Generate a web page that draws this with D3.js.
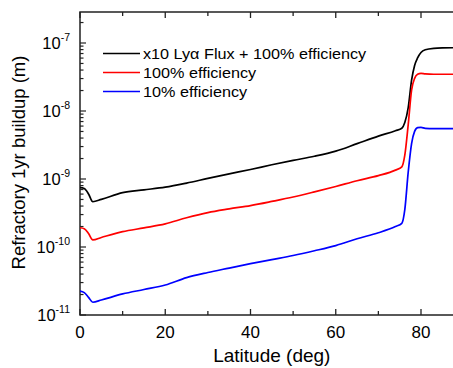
<!DOCTYPE html>
<html>
<head>
<meta charset="utf-8">
<script src="https://cdn.jsdelivr.net/npm/d3@7"></script>
<style>
    body { margin: 0; background: #fff; }
    text { font-family: "Liberation Sans", Arial, sans-serif; fill: #000; }
</style>
</head>
<body>
<script>
// latitude grid (deg) shared by all three series
const latitude = [0, 1, 2, 3, 5, 10, 15, 20, 25, 30, 35, 40, 45, 50, 55, 60, 65, 70,
    74, 75.5, 76.2, 77, 77.8, 78.5, 79.2, 80, 81, 83, 85, 88, 90];

// refractory 1yr buildup (m)
const lyaFlux100 = [7.45e-10, 7.24e-10, 6.03e-10, 4.63e-10, 5.01e-10, 6.31e-10, 6.92e-10, 7.59e-10,
    8.71e-10, 1.02e-9, 1.19e-9, 1.38e-9, 1.62e-9, 1.88e-9, 2.16e-9, 2.57e-9, 3.31e-9, 4.27e-9,
    5.13e-9, 5.57e-9, 6.76e-9, 1.12e-8, 2.86e-8, 4.68e-8, 6.03e-8, 7.24e-8, 7.94e-8,
    8.36e-8, 8.47e-8, 8.51e-8, 8.51e-8];
const eff100 = [1.92e-10, 1.86e-10, 1.58e-10, 1.27e-10, 1.38e-10, 1.68e-10, 1.91e-10, 2.19e-10,
    2.69e-10, 3.20e-10, 3.63e-10, 4.07e-10, 4.68e-10, 5.43e-10, 6.46e-10, 7.76e-10, 9.44e-10, 1.12e-9,
    1.35e-9, 1.51e-9, 2.24e-9, 6.31e-9, 2.04e-8, 3.02e-8, 3.47e-8, 3.58e-8, 3.51e-8,
    3.47e-8, 3.47e-8, 3.47e-8, 3.47e-8];
const eff10 = [2.25e-11, 2.13e-11, 1.82e-11, 1.54e-11, 1.66e-11, 2.04e-11, 2.37e-11, 2.76e-11,
    3.55e-11, 4.22e-11, 4.90e-11, 5.69e-11, 6.53e-11, 7.50e-11, 8.81e-11, 1.05e-10, 1.32e-10, 1.62e-10,
    2.00e-10, 2.23e-10, 3.55e-10, 1.26e-9, 3.35e-9, 5.01e-9, 5.69e-9, 5.75e-9, 5.56e-9,
    5.50e-9, 5.50e-9, 5.50e-9, 5.50e-9];

const seriesNames = ["x10 Ly\u03b1 Flux + 100% efficiency", "100% efficiency", "10% efficiency"];
const seriesColors = ["#000000", "#ff0000", "#0000ff"];
const seriesValues = [lyaFlux100, eff100, eff10];

const xTicks = [0, 20, 40, 60, 80];
const xMinorTicks = [10, 30, 50, 70, 90];
const yDecades = [-11, -10, -9, -8, -7];

const width = 453, height = 368;
const plotLeft = 80, plotTop = 12, plotBottom = 315;
const plotRight = plotLeft + 90 * 4.2625;

const svg = d3.select("body").append("svg")
    .attr("width", width)
    .attr("height", height);

const x = d3.scaleLinear().domain([0, 90]).range([plotLeft, plotRight]);
const y = d3.scaleLog()
    .domain([1e-11, Math.pow(10, -11 + (plotBottom - plotTop) / 68)])
    .range([plotBottom, plotTop]);

// frame
svg.append("rect")
    .attr("x", plotLeft).attr("y", plotTop)
    .attr("width", plotRight - plotLeft).attr("height", plotBottom - plotTop)
    .attr("fill", "none").attr("stroke", "#222").attr("stroke-width", 1.5);

// x ticks (bottom and top, pointing inward)
const xt = svg.append("g").attr("stroke", "#222").attr("stroke-width", 1.3);
xTicks.concat(xMinorTicks).forEach(v => {
    const len = xTicks.includes(v) ? 6 : 4;
    xt.append("line").attr("x1", x(v)).attr("x2", x(v)).attr("y1", plotBottom).attr("y2", plotBottom - len);
    xt.append("line").attr("x1", x(v)).attr("x2", x(v)).attr("y1", plotTop).attr("y2", plotTop + len);
});
svg.append("g").selectAll("text")
    .data(xTicks)
    .join("text")
    .attr("x", d => x(d))
    .attr("y", 337.5)
    .attr("text-anchor", "middle")
    .attr("font-size", 17)
    .text(d => d);

// y ticks (log, inward)
const yt = svg.append("g").attr("stroke", "#222").attr("stroke-width", 1.2);
yDecades.forEach(e => {
    const base = Math.pow(10, e);
    yt.append("line").attr("x1", plotLeft).attr("x2", plotLeft + 6).attr("y1", y(base)).attr("y2", y(base));
    for (let m = 2; m <= 9; m++) {
        const v = m * base;
        if (y(v) < plotTop) break;
        yt.append("line").attr("x1", plotLeft).attr("x2", plotLeft + 3.5).attr("y1", y(v)).attr("y2", y(v));
    }
});
const yl = svg.append("g").selectAll("text")
    .data(yDecades)
    .join("text")
    .attr("x", 70)
    .attr("y", d => y(Math.pow(10, d)) + 6)
    .attr("text-anchor", "end")
    .attr("font-size", 16.5);
yl.append("tspan").text("10");
yl.append("tspan").attr("font-size", 10.5).attr("dy", -8).text(d => "-" + (-d));

// axis titles
svg.append("text")
    .attr("x", (plotLeft + plotRight) / 2)
    .attr("y", 362)
    .attr("text-anchor", "middle")
    .attr("font-size", 19)
    .text("Latitude (deg)");
svg.append("text")
    .attr("transform", "translate(25,162.5) rotate(-90)")
    .attr("text-anchor", "middle")
    .attr("font-size", 18.5)
    .text("Refractory 1yr buildup (m)");

// curves
const line = d3.line()
    .x((d, i) => x(latitude[i]))
    .y(d => y(d))
    .curve(d3.curveMonotoneX);

svg.append("defs").append("clipPath").attr("id", "plot")
    .append("rect").attr("x", plotLeft).attr("y", plotTop)
    .attr("width", plotRight - plotLeft).attr("height", plotBottom - plotTop);

svg.append("g").attr("clip-path", "url(#plot)")
    .selectAll("path")
    .data(seriesValues)
    .join("path")
    .attr("d", d => line(d))
    .attr("fill", "none")
    .attr("stroke", (d, i) => seriesColors[i])
    .attr("stroke-width", 1.7);

// legend
const lg = svg.append("g").selectAll("g")
    .data(seriesNames)
    .join("g")
    .attr("transform", (d, i) => "translate(0," + (53.5 + i * 19) + ")");
lg.append("line")
    .attr("x1", 103).attr("x2", 140)
    .attr("stroke", (d, i) => seriesColors[i])
    .attr("stroke-width", 1.7);
lg.append("text")
    .attr("transform", "translate(143,5) scale(1.08,1)")
    .attr("font-size", 15)
    .text(d => d);
</script>
</body>
</html>
